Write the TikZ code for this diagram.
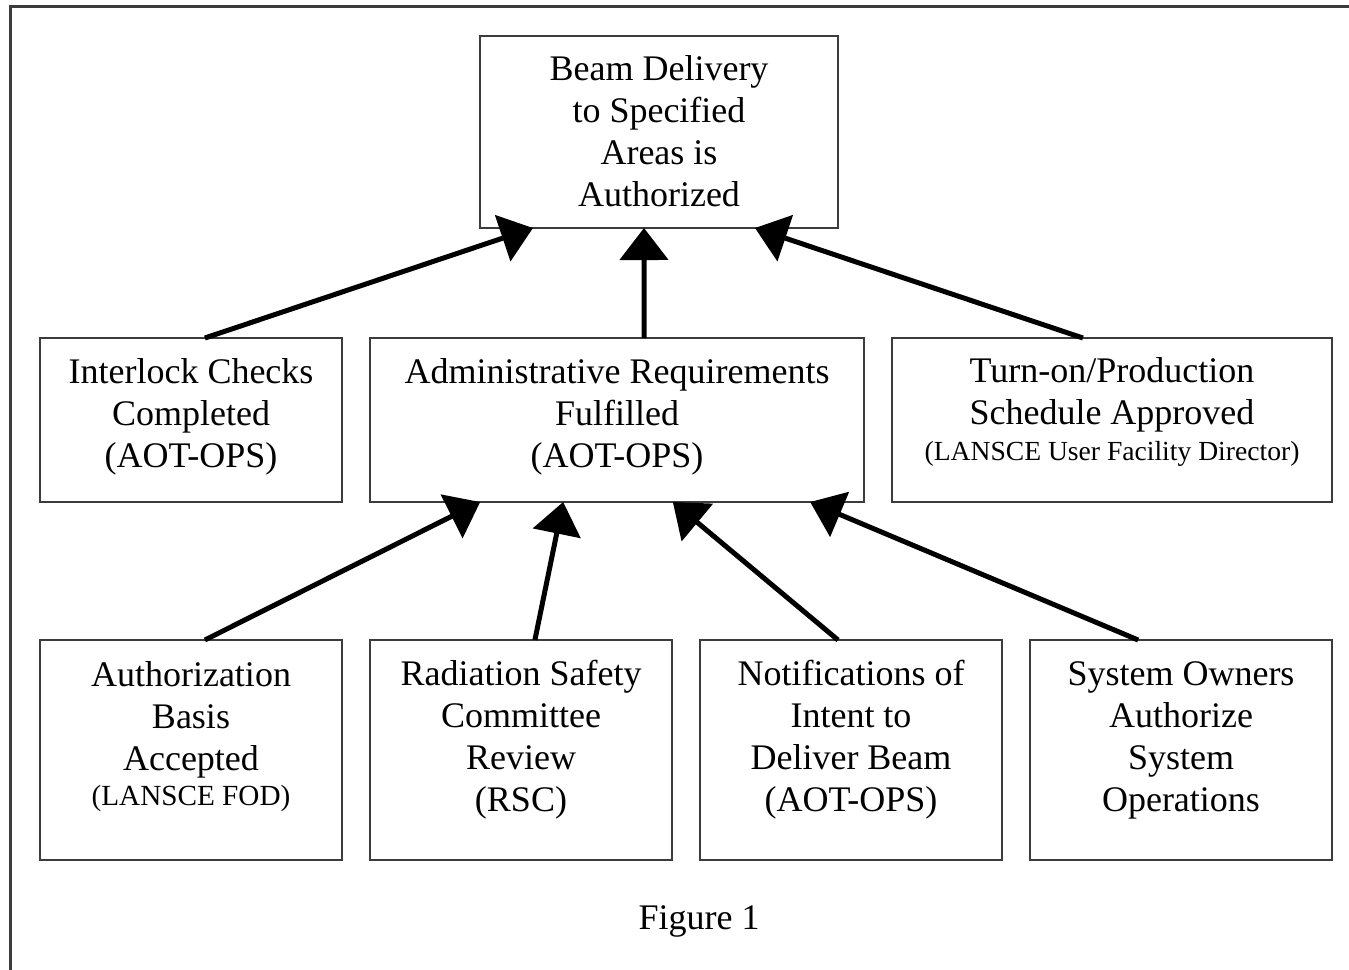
\documentclass[tikz,border=0pt]{standalone}
\usepackage{fontspec}
\setmainfont{Liberation Serif}
\usetikzlibrary{arrows.meta,calc}
\definecolor{frame}{HTML}{3C3C3C}
\begin{document}
\begin{tikzpicture}[x=0.5pt,y=-0.5pt,
  box/.style={draw=frame,line width=1pt,inner sep=0pt,outer sep=0pt,rectangle},
  txt/.style={align=center,inner sep=0pt,font=\fontsize{18}{21}\selectfont},
  arr/.style={line width=2.5pt,-{Triangle[length=16pt,width=24pt]}}]
\useasboundingbox (0,0) rectangle (1349,969);
\begin{scope}
\clip (0,0) rectangle (1349,969);
\draw[frame,line width=1.5pt] (10,6) rectangle (1400,1020);
\end{scope}
% boxes
\node[box,minimum width=179pt,minimum height=96pt] (top) at (659,132) {};
\node[box,minimum width=151pt,minimum height=82pt] (il) at (191,420) {};
\node[box,minimum width=247pt,minimum height=82pt] (ad) at (617,420) {};
\node[box,minimum width=220pt,minimum height=82pt] (to) at (1112,420) {};
\node[box,minimum width=151pt,minimum height=110pt] (ab) at (191,750) {};
\node[box,minimum width=151pt,minimum height=110pt] (rs) at (521,750) {};
\node[box,minimum width=151pt,minimum height=110pt] (no) at (851,750) {};
\node[box,minimum width=151pt,minimum height=110pt] (so) at (1181,750) {};
% texts
\node[txt] (ttop) at (659,131) {Beam Delivery\\to Specified\\Areas is\\Authorized};
\node[txt] (til) at (191,417) {Interlock Checks\\Completed\\(AOT-OPS)};
\node[txt] (tad) at (617,417) {Administrative Requirements\\Fulfilled\\(AOT-OPS)};
\node[txt] (tto) at (1112,412) {Turn-on/Production\\Schedule Approved\\[-3pt]{\fontsize{13.8}{15}\selectfont (LANSCE User Facility Director)}};
\node[txt] (tab) at (191,737) {Authorization\\Basis\\Accepted\\[-3.5pt]{\fontsize{14.6}{15}\selectfont (LANSCE FOD)}};
\node[txt] (trs) at (521,740) {Radiation Safety\\Committee\\Review\\(RSC)};
\node[txt] (tno) at (851,740) {Notifications of\\Intent to\\Deliver Beam\\(AOT-OPS)};
\node[txt] (tso) at (1181,740) {System Owners\\Authorize\\System\\Operations};
\node[txt] (fig) at (699,921) {Figure 1};
% arrows
\draw[arr] ($(il.north west)!0.546!(il.north east)$) -- ($(top.south west)!0.148!(top.south east)$);
\draw[arr] ($(ad.north west)!0.5547!(ad.north east)$) -- ($(top.south west)!0.4581!(top.south east)$);
\draw[arr] ($(to.north west)!0.434!(to.north east)$) -- ($(top.south west)!0.768!(top.south east)$);
\draw[arr] ($(ab.north west)!0.546!(ab.north east)$) -- ($(ad.south west)!0.223!(ad.south east)$);
\draw[arr] ($(rs.north west)!0.546!(rs.north east)$) -- ($(ad.south west)!0.391!(ad.south east)$);
\draw[arr] ($(no.north west)!0.457!(no.north east)$) -- ($(ad.south west)!0.613!(ad.south east)$);
\draw[arr] ($(so.north west)!0.358!(so.north east)$) -- ($(ad.south west)!0.891!(ad.south east)$);
\end{tikzpicture}
\end{document}
